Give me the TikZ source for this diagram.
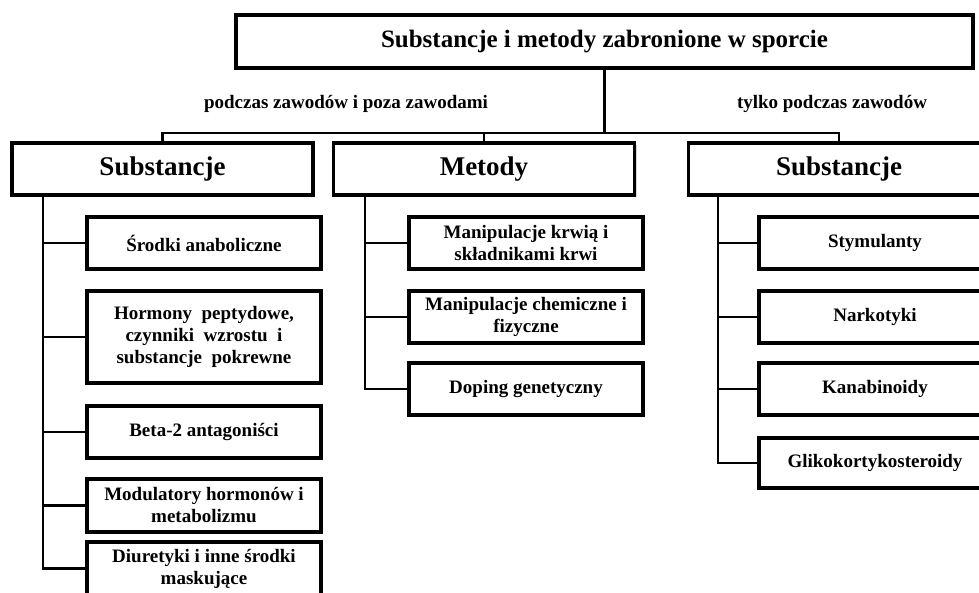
\documentclass[tikz,border=0pt]{standalone}
\usepackage{fontspec}
\setmainfont{Liberation Serif}
\usetikzlibrary{shadows,backgrounds}

\begin{document}
\begin{tikzpicture}[x=1pt,y=-1pt]
    \tikzset{
        box/.style={draw,line width=3.5pt,fill=white,inner sep=0pt,align=center,
            drop shadow={shadow xshift=2pt,shadow yshift=-2pt,opacity=0.3}},
        topbox/.style={box,minimum width=737pt,minimum height=53pt,font=\bfseries\fontsize{25}{30}\selectfont},
        headbox/.style={box,minimum width=301pt,minimum height=52pt,font=\bfseries\fontsize{27}{32}\selectfont},
        leafbox/.style={box,minimum width=234pt,minimum height=52pt,font=\bfseries\fontsize{19}{22}\selectfont},
        lbl/.style={font=\bfseries\fontsize{19}{22}\selectfont,inner sep=0pt},
        link/.style={line width=2.8pt}
    }
    \useasboundingbox (0,0) rectangle (979,592);
    \clip (0,0) rectangle (979,592);

    \node[topbox] (top) at (604.5,41.5) {Substancje i metody zabronione w sporcie};
    \node[lbl] (during) at (346,104) {podczas zawodów i poza zawodami};
    \node[lbl] (only) at (832,104) {tylko podczas zawodów};

    \node[headbox] (subL) at (162.5,169) {Substancje};
    \node[headbox] (met) at (484,169) {Metody};
    \node[headbox] (subR) at (839,169) {Substancje};

    \node[leafbox] (a1) at (204,243) {Środki anaboliczne};
    \node[leafbox,minimum height=92pt] (a2) at (204,337) {Hormony\ \ peptydowe,\\czynniki\ \ wzrostu\ \ i\\substancje\ \ pokrewne};
    \node[leafbox] (a3) at (204,432) {Beta-2 antagoniści};
    \node[leafbox,minimum height=53pt] (a4) at (204,505.5) {Modulatory hormonów i\\metabolizmu};
    \node[leafbox,minimum height=53pt] (a5) at (204,568.5) {Diuretyki i inne środki\\maskujące};

    \node[leafbox] (b1) at (526,243) {Manipulacje krwią i\\składnikami krwi};
    \node[leafbox] (b2) at (526,317) {Manipulacje chemiczne i\\fizyczne};
    \node[leafbox] (b3) at (526,389) {Doping genetyczny};

    \node[leafbox,minimum width=232pt] (c1) at (875,243) {Stymulanty};
    \node[leafbox,minimum width=232pt] (c2) at (875,317) {Narkotyki};
    \node[leafbox,minimum width=232pt] (c3) at (875,389) {Kanabinoidy};
    \node[leafbox,minimum width=232pt,minimum height=50pt] (c4) at (875,463) {Glikokortykosteroidy};

    \coordinate (bus) at (605,133);
    \coordinate (trunkA) at (43,195);
    \coordinate (trunkB) at (365,195);
    \coordinate (trunkC) at (718,195);

    \begin{scope}[on background layer]
        \draw[link] (top.south) -- (top.south |- bus);
        \draw[link] (top.south |- bus) -| (subL.north);
        \draw[link] (top.south |- bus) -| (met.north);
        \draw[link] (top.south |- bus) -| (subR.north);
        \foreach \n in {a1,a2,a3,a4,a5} \draw[link] (trunkA) |- (\n.west);
        \foreach \n in {b1,b2,b3} \draw[link] (trunkB) |- (\n.west);
        \foreach \n in {c1,c2,c3,c4} \draw[link] (trunkC) |- (\n.west);
    \end{scope}
\end{tikzpicture}
\end{document}
